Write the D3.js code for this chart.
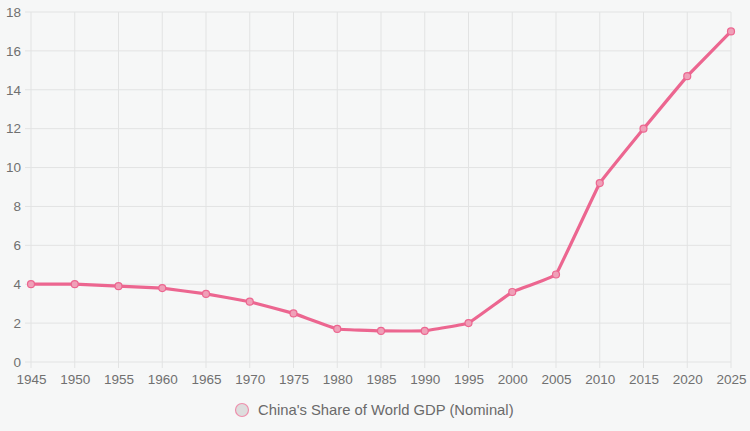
<!DOCTYPE html>
<html>
<head>
<meta charset="utf-8">
<script src="https://cdn.jsdelivr.net/npm/d3@7"></script>
<style>
  html, body { margin: 0; padding: 0; background: #f6f7f7; }
  svg { display: block; font-family: "Liberation Sans", Arial, sans-serif; }
</style>
</head>
<body>
<svg id="chart" width="750" height="431"></svg>
<script>
// data
const years = [1945, 1950, 1955, 1960, 1965, 1970, 1975, 1980, 1985, 1990, 1995, 2000, 2005, 2010, 2015, 2020, 2025];
const share = [4.0, 4.0, 3.9, 3.8, 3.5, 3.1, 2.5, 1.7, 1.6, 1.6, 2.0, 3.6, 4.5, 9.2, 12.0, 14.7, 17.0];
const yTicks = [0, 2, 4, 6, 8, 10, 12, 14, 16, 18];
const seriesName = "China's Share of World GDP (Nominal)";

const svg = d3.select("#chart");
const margin = {left: 31, right: 19, top: 12, bottom: 69};
const width = 750, height = 431;
const lineColor = "#ec6690";

let xScale = d3.scalePoint()
    .domain(years)
    .range([margin.left, width - margin.right]);

let yScale = d3.scaleLinear()
    .domain([0, 18])
    .range([height - margin.bottom, margin.top]);

// grid lines
let grid = svg.append("g");
grid.selectAll(".vgrid")
    .data(years)
    .enter()
    .append("line")
    .attr("x1", d => xScale(d))
    .attr("x2", d => xScale(d))
    .attr("y1", yScale(18))
    .attr("y2", yScale(0) + 6)
    .attr("stroke", "#e2e3e3")
    .attr("stroke-width", 1);

grid.selectAll(".hgrid")
    .data(yTicks)
    .enter()
    .append("line")
    .attr("x1", margin.left - 6)
    .attr("x2", width - margin.right)
    .attr("y1", d => yScale(d))
    .attr("y2", d => yScale(d))
    .attr("stroke", "#e2e3e3")
    .attr("stroke-width", 1);

// axes (labels only, the grid does the lines)
let x_axis = d3.axisBottom(xScale).tickSize(0).tickPadding(12);
svg.append("g")
    .attr("transform", `translate(0, ${yScale(0)})`)
    .call(x_axis)
    .call(g => g.select(".domain").remove())
    .selectAll("text")
    .attr("fill", "#707070")
    .style("font-size", "13.5px");

let y_axis = d3.axisLeft(yScale).tickValues(yTicks).tickSize(0).tickPadding(10);
svg.append("g")
    .attr("transform", `translate(${margin.left}, 0)`)
    .call(y_axis)
    .call(g => g.select(".domain").remove())
    .selectAll("text")
    .attr("fill", "#707070")
    .style("font-size", "13.5px");

// line
let points = years.map((y, i) => ({year: y, value: share[i]}));

let line = d3.line()
    .x(d => xScale(d.year))
    .y(d => yScale(d.value))
    .curve(d3.curveCardinal.tension(0.85));

svg.append("path")
    .datum(points)
    .attr("d", line)
    .attr("fill", "none")
    .attr("stroke", lineColor)
    .attr("stroke-width", 3.2);

svg.selectAll(".pt")
    .data(points)
    .enter()
    .append("circle")
    .attr("cx", d => xScale(d.year))
    .attr("cy", d => yScale(d.value))
    .attr("r", 3.5)
    .attr("fill", "#efa0b8")
    .attr("stroke", lineColor)
    .attr("stroke-width", 1.2);

// legend
let legend = svg.append("g").attr("transform", "translate(242, 410)");
legend.append("circle")
    .attr("r", 6.5)
    .attr("fill", "#dddddd")
    .attr("stroke", "#ee8fac")
    .attr("stroke-width", 1.2);
legend.append("text")
    .attr("x", 16)
    .attr("y", 0)
    .attr("dy", "0.35em")
    .attr("fill", "#6a6a6a")
    .style("font-size", "14.8px")
    .text(seriesName);
</script>
</body>
</html>
